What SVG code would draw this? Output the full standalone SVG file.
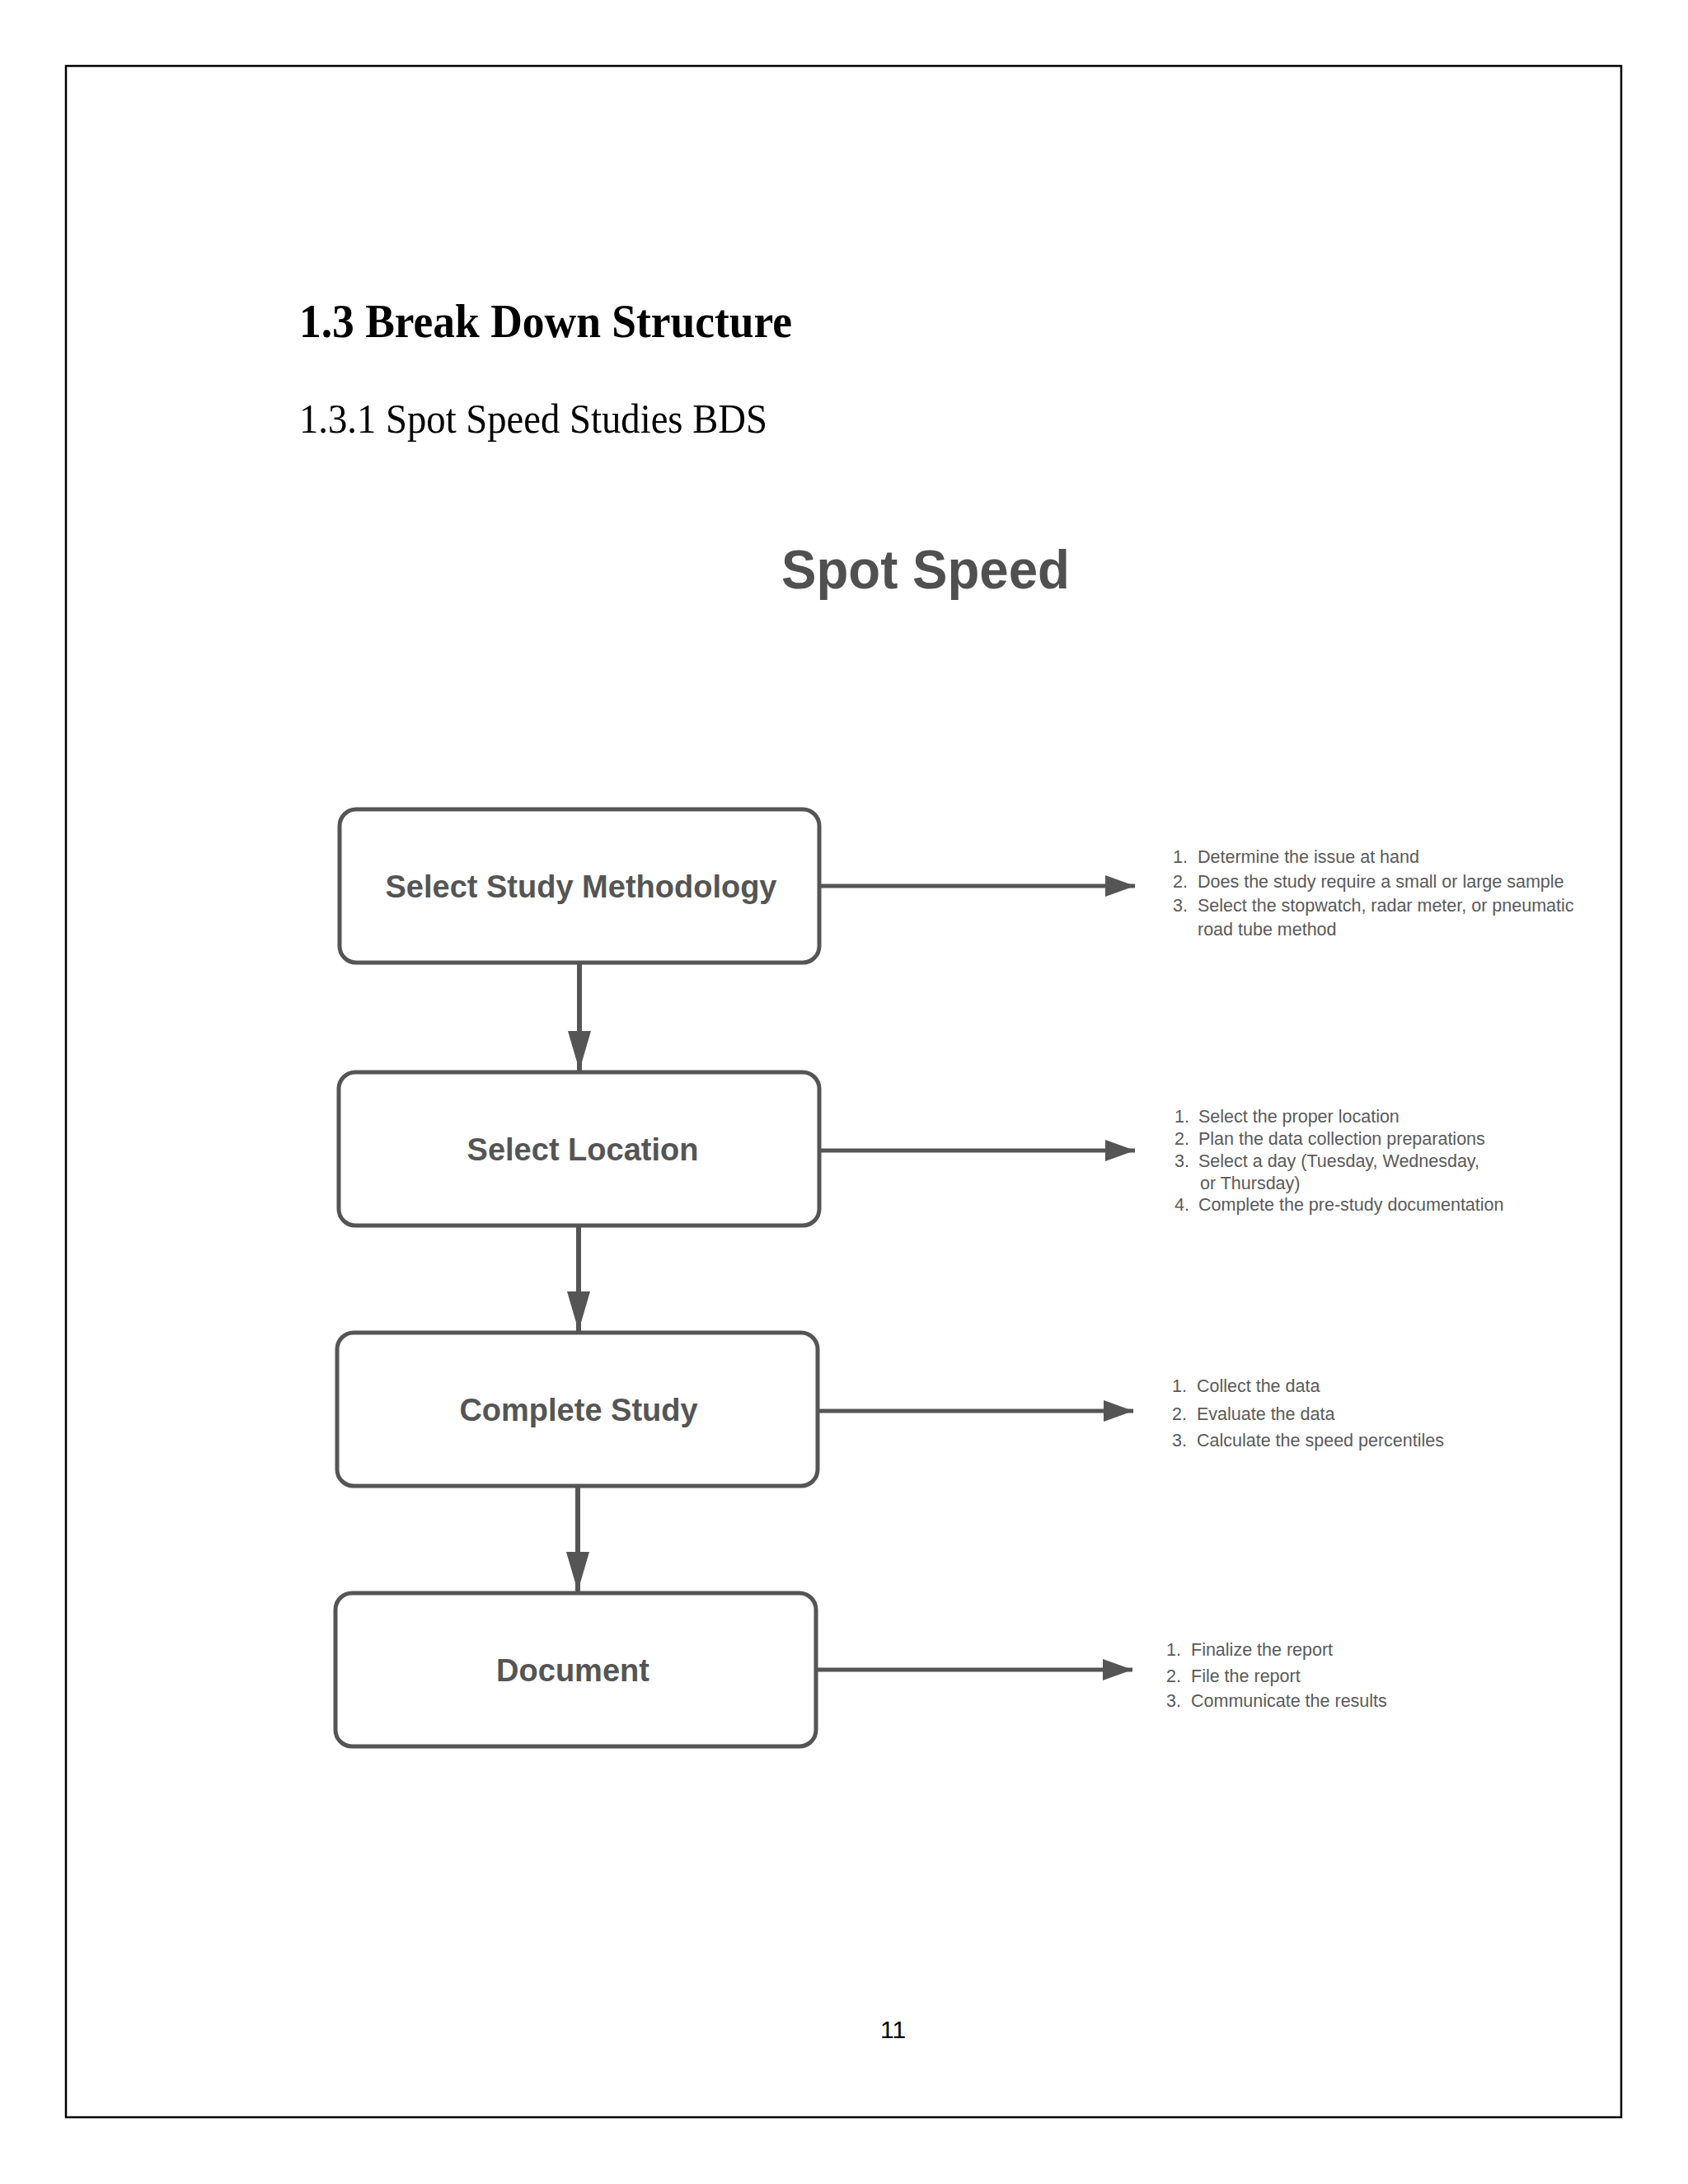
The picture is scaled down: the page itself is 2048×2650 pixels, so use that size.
<svg xmlns="http://www.w3.org/2000/svg" width="2048" height="2650" viewBox="0 0 2048 2650">
<defs>
<style>
.head{font-family:"Liberation Serif","Times New Roman",serif;fill:#000}
.title{font-family:"Liberation Sans",Arial,sans-serif;font-weight:bold;fill:#505050}
.box{fill:#fff;stroke:#555;stroke-width:5}
.lbl{font-family:"Liberation Sans",Arial,sans-serif;font-weight:bold;font-size:38px;fill:#555;text-anchor:middle}
.item{font-family:"Liberation Sans",Arial,sans-serif;font-size:21.5px;fill:#5a5a5a}
.conn{stroke:#555;fill:none}
</style>
<marker id="hv" markerUnits="userSpaceOnUse" markerWidth="50" markerHeight="30" refX="48" refY="14" orient="auto">
<path d="M0,0 L48,14 L0,28 z" fill="#555"/>
</marker>
<marker id="hh" markerUnits="userSpaceOnUse" markerWidth="40" markerHeight="28" refX="36" refY="13" orient="auto">
<path d="M0,0 L36,13 L0,26 z" fill="#555"/>
</marker>
</defs>
<rect x="0" y="0" width="2048" height="2650" fill="#fff"/>
<rect x="80" y="80" width="1887" height="2489" fill="none" stroke="#000" stroke-width="2.5"/>

<text class="head" x="363" y="409" font-size="58" font-weight="bold" textLength="598" lengthAdjust="spacingAndGlyphs">1.3 Break Down Structure</text>
<text class="head" x="363" y="525" font-size="50" textLength="568" lengthAdjust="spacingAndGlyphs">1.3.1 Spot Speed Studies BDS</text>
<text class="title" x="1123" y="714" font-size="66" text-anchor="middle" textLength="350" lengthAdjust="spacingAndGlyphs">Spot Speed</text>

<g id="connectors">
<line class="conn" stroke-width="6" x1="703" y1="1168" x2="703" y2="1299" marker-end="url(#hv)"/>
<line class="conn" stroke-width="6" x1="702" y1="1487" x2="702" y2="1615" marker-end="url(#hv)"/>
<line class="conn" stroke-width="6" x1="701" y1="1803" x2="701" y2="1931" marker-end="url(#hv)"/>
<line class="conn" stroke-width="5" x1="994" y1="1075" x2="1377" y2="1075" marker-end="url(#hh)"/>
<line class="conn" stroke-width="5" x1="994" y1="1396" x2="1377" y2="1396" marker-end="url(#hh)"/>
<line class="conn" stroke-width="5" x1="992" y1="1712" x2="1375" y2="1712" marker-end="url(#hh)"/>
<line class="conn" stroke-width="5" x1="990" y1="2026" x2="1374" y2="2026" marker-end="url(#hh)"/>
</g>

<g id="node-methodology">
<rect class="box" x="412" y="982" width="582" height="186" rx="20"/>
<text class="lbl" x="705" y="1089">Select Study Methodology</text>
</g>
<g id="node-location">
<rect class="box" x="411" y="1301" width="583" height="186" rx="20"/>
<text class="lbl" x="707" y="1408">Select Location</text>
</g>
<g id="node-complete">
<rect class="box" x="409" y="1617" width="583" height="186" rx="20"/>
<text class="lbl" x="702" y="1724">Complete Study</text>
</g>
<g id="node-document">
<rect class="box" x="407" y="1933" width="583" height="186" rx="20"/>
<text class="lbl" x="695" y="2040">Document</text>
</g>

<g id="list-methodology">
<text class="item" x="1423" y="1047">1.<tspan x="1453">Determine the issue at hand</tspan></text>
<text class="item" x="1423" y="1077">2.<tspan x="1453">Does the study require a small or large sample</tspan></text>
<text class="item" x="1423" y="1106">3.<tspan x="1453">Select the stopwatch, radar meter, or pneumatic</tspan></text>
<text class="item" x="1453" y="1135">road tube method</text>
</g>
<g id="list-location">
<text class="item" x="1425" y="1362">1.<tspan x="1454">Select the proper location</tspan></text>
<text class="item" x="1425" y="1389">2.<tspan x="1454">Plan the data collection preparations</tspan></text>
<text class="item" x="1425" y="1416">3.<tspan x="1454">Select a day (Tuesday, Wednesday,</tspan></text>
<text class="item" x="1456" y="1443">or Thursday)</text>
<text class="item" x="1425" y="1469">4.<tspan x="1454">Complete the pre-study documentation</tspan></text>
</g>
<g id="list-complete">
<text class="item" x="1422" y="1689">1.<tspan x="1452">Collect the data</tspan></text>
<text class="item" x="1422" y="1723">2.<tspan x="1452">Evaluate the data</tspan></text>
<text class="item" x="1422" y="1755">3.<tspan x="1452">Calculate the speed percentiles</tspan></text>
</g>
<g id="list-document">
<text class="item" x="1415" y="2009">1.<tspan x="1445">Finalize the report</tspan></text>
<text class="item" x="1415" y="2041">2.<tspan x="1445">File the report</tspan></text>
<text class="item" x="1415" y="2071">3.<tspan x="1445">Communicate the results</tspan></text>
</g>

<text x="1068" y="2473" font-family="'Liberation Sans',Arial,sans-serif" font-size="30" fill="#000">11</text>
</svg>
